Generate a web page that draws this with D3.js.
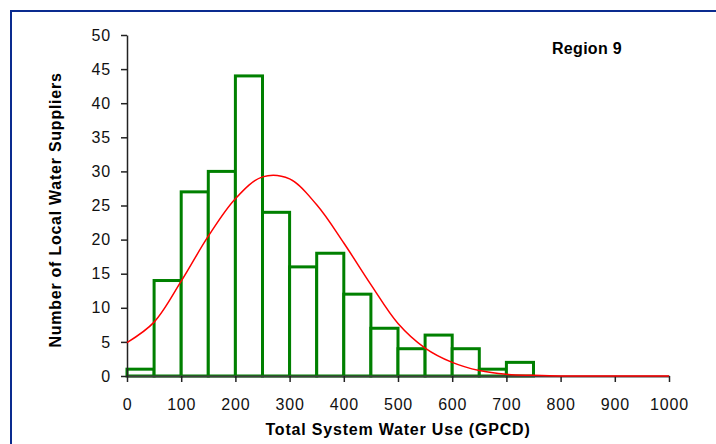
<!DOCTYPE html>
<html>
<head>
<meta charset="utf-8">
<script src="https://cdn.jsdelivr.net/npm/d3@7"></script>
<style>
  body { margin: 0; background: #fff; }
  svg text { font-family: Arial, "Liberation Sans", sans-serif; }
</style>
</head>
<body>
<div id="chart"></div>
<script>
// bins of 50 GPCD, counts
var binStart = [0, 50, 100, 150, 200, 250, 300, 350, 400, 450, 500, 550, 600, 650, 700, 750, 800, 850, 900, 950];
var counts = [1, 14, 27, 30, 44, 24, 16, 18, 12, 7, 4, 6, 4, 1, 2, 0, 0, 0, 0, 0];

// fitted (red) curve, read at every 50
var curveX = [0, 50, 100, 150, 200, 250, 300, 350, 400, 450, 500, 550, 600, 650, 700, 750, 800, 850, 900, 950, 1000];
var curveY = [4.9, 7.9, 13.9, 20.5, 26, 29.2, 28.9, 25.1, 19.5, 13.4, 7.7, 4.1, 2.0, 0.8, 0.25, 0.1, 0, 0, 0, 0, 0];

var xTicks = [0, 100, 200, 300, 400, 500, 600, 700, 800, 900, 1000];
var yTicks = [0, 5, 10, 15, 20, 25, 30, 35, 40, 45, 50];

var w = 716;
var h = 444;

var svg = d3.select("#chart")
  .append("svg")
  .attr("width", w)
  .attr("height", h);

// blue frame
svg.append("rect")
  .attr("x", 11)
  .attr("y", 11)
  .attr("width", w + 20)
  .attr("height", h + 20)
  .attr("fill", "none")
  .attr("stroke", "#0a2b8f")
  .attr("stroke-width", 2);

var xScale = d3.scaleLinear()
  .domain([0, 1000])
  .range([127, 669]);

var yScale = d3.scaleLinear()
  .domain([0, 50])
  .range([376, 35]);

// bars
svg.selectAll("rect.bar")
  .data(binStart)
  .enter()
  .append("rect")
  .attr("class", "bar")
  .attr("x", function(d) { return xScale(d); })
  .attr("width", function(d) { return xScale(d + 50) - xScale(d); })
  .attr("y", function(d, i) { return yScale(counts[i]); })
  .attr("height", function(d, i) { return yScale(0) - yScale(counts[i]); })
  .attr("fill", "white")
  .attr("stroke", function(d, i) { return counts[i] > 0 ? "#008000" : "#7cc47c"; })
  .attr("stroke-width", 3);

// axes
var xAxis = d3.axisBottom(xScale)
  .tickValues(xTicks)
  .tickFormat(d3.format("d"))
  .tickSize(6)
  .tickSizeOuter(0)
  .tickPadding(17);

var yAxis = d3.axisLeft(yScale)
  .tickValues(yTicks)
  .tickSize(6)
  .tickSizeOuter(0)
  .tickPadding(10);

var gx = svg.append("g")
  .attr("transform", "translate(0," + yScale(0) + ")")
  .call(xAxis);
gx.select(".domain").attr("stroke", "#404040").attr("stroke-width", 2);
gx.selectAll(".tick line").attr("stroke", "#222").attr("stroke-width", 1.5);
gx.selectAll(".tick text").attr("font-size", "16px").attr("fill", "#111")
  .attr("letter-spacing", "0.8px")
  .attr("font-family", "Arial, 'Liberation Sans', sans-serif");

var gy = svg.append("g")
  .attr("transform", "translate(" + xScale(0) + ",0)")
  .call(yAxis);
gy.select(".domain").attr("stroke", "#222").attr("stroke-width", 1.5);
gy.selectAll(".tick line").attr("stroke", "#222").attr("stroke-width", 1.5);
gy.selectAll(".tick text").attr("font-size", "16px").attr("fill", "#111")
  .attr("letter-spacing", "0.8px")
  .attr("font-family", "Arial, 'Liberation Sans', sans-serif");

// red fitted curve
var line = d3.line()
  .x(function(d, i) { return xScale(curveX[i]); })
  .y(function(d) { return yScale(d); })
  .curve(d3.curveCatmullRom.alpha(0.5));

svg.append("path")
  .datum(curveY)
  .attr("d", line)
  .attr("fill", "none")
  .attr("stroke", "#ff0000")
  .attr("stroke-width", 1.5);

// labels
svg.append("text")
  .attr("x", 398)
  .attr("y", 435)
  .attr("text-anchor", "middle")
  .attr("font-size", "16px")
  .attr("font-weight", "bold")
  .attr("letter-spacing", "0.8px")
  .text("Total System Water Use (GPCD)");

svg.append("text")
  .attr("transform", "translate(61,210) rotate(-90)")
  .attr("text-anchor", "middle")
  .attr("font-size", "16px")
  .attr("font-weight", "bold")
  .attr("letter-spacing", "0.75px")
  .text("Number of Local Water Suppliers");

svg.append("text")
  .attr("x", 552)
  .attr("y", 54)
  .attr("font-size", "16px")
  .attr("font-weight", "bold")
  .attr("letter-spacing", "0.3px")
  .text("Region 9");
</script>
</body>
</html>
